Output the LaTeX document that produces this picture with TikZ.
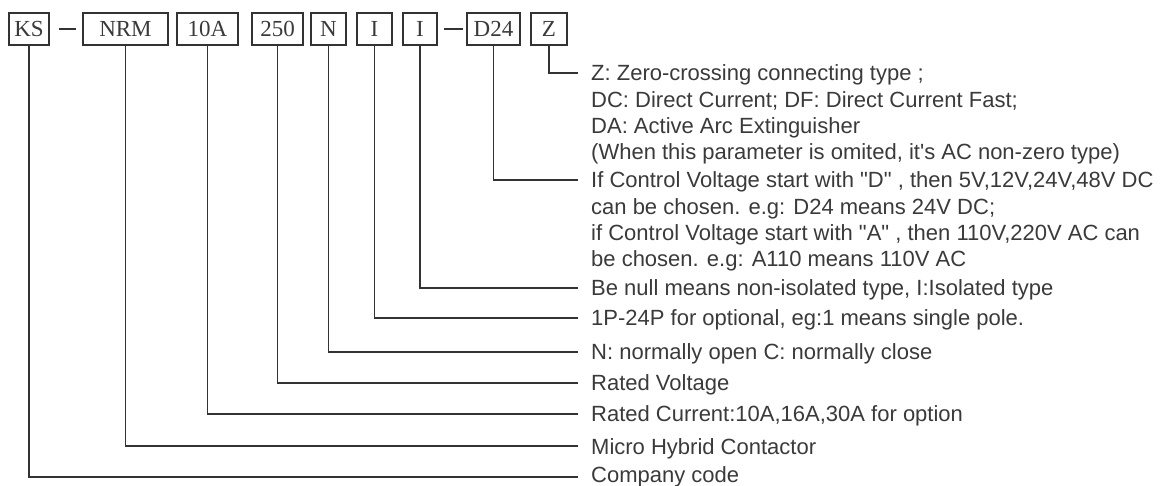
\documentclass[tikz,border=0pt]{standalone}
\usepackage{fontspec}
\setmainfont{Liberation Serif}
\newfontfamily\descfont{Liberation Sans}
\definecolor{lc}{HTML}{333333}
\definecolor{tc}{HTML}{3A3A3A}
\begin{document}
\begin{tikzpicture}[x=1pt,y=-1pt,
  codebox/.style={draw=lc, line width=1.6pt, minimum height=32pt, inner sep=0pt,
    font=\fontsize{23}{23}\selectfont\rmfamily, text=tc},
  desc/.style={anchor=base west, inner sep=0pt,
    font=\fontsize{22}{26.3}\selectfont\descfont, text=tc, align=left},
  leader/.style={draw=lc, line width=1.8pt},
  dashline/.style={draw=lc, line width=2pt}]
\useasboundingbox (0,0) rectangle (1171,486);
% code boxes
\node[codebox, minimum width=40pt] (ks)  at (29,29)    {KS};
\node[codebox, minimum width=85pt] (nrm) at (125.5,29) {NRM};
\node[codebox, minimum width=61pt] (ra)  at (207.5,29) {10A};
\node[codebox, minimum width=51pt] (rv)  at (277.5,29) {250};
\node[codebox, minimum width=35pt] (no)  at (328.5,29) {N};
\node[codebox, minimum width=35pt] (po)  at (374.5,29) {I};
\node[codebox, minimum width=34pt] (is)  at (420,29)   {I};
\node[codebox, minimum width=53pt] (cv)  at (493.5,29) {D24};
\node[codebox, minimum width=36pt] (zc)  at (549,29)   {Z};
% dashes
\draw[dashline] (ks.east) ++(9,0) coordinate (d1a) -- ++(17,0) coordinate (d1b);
\draw[dashline] (is.east) ++(6,0) coordinate (d2a) -- ++(19,0) coordinate (d2b);
% leader end points
\coordinate (ezc) at (578,73);
\coordinate (ecv) at (578,180);
\coordinate (eis) at (578,288);
\coordinate (epo) at (578,318);
\coordinate (eno) at (578,352);
\coordinate (erv) at (578,383);
\coordinate (era) at (578,414);
\coordinate (enrm) at (578,446);
\coordinate (eks) at (578,477);
% leaders
\draw[leader] (zc.south) |- (ezc);
\draw[leader] (cv.south) |- (ecv);
\draw[leader] (is.south) |- (eis);
\draw[leader] (po.south) |- (epo);
\draw[leader] (no.south) |- (eno);
\draw[leader] (rv.south) |- (erv);
\draw[leader] (ra.south) |- (era);
\draw[leader] (nrm.south) |- (enrm);
\draw[leader] (ks.south) |- (eks);
% descriptions (base anchor = baseline of the last line)
\node[desc] (tzc) at (591,159.9) {Z: Zero-crossing connecting type ;\\DC: Direct Current; DF: Direct Current Fast;\\DA: Active Arc Extinguisher\\(When this parameter is omited, it's AC non-zero type)};
\node[desc] (tcv) at (591,266.9) {If Control Voltage start with "D" , then 5V,12V,24V,48V DC\\can be chosen. e.g: D24 means 24V DC;\\if Control Voltage start with "A" , then 110V,220V AC can\\be chosen. e.g: A110 means 110V AC};
\node[desc] (tis) at (591,296) {Be null means non-isolated type, I:Isolated type};
\node[desc] (tpo) at (591,326) {1P-24P for optional, eg:1 means single pole.};
\node[desc] (tno) at (591,360) {N: normally open C: normally close};
\node[desc] (trv) at (591,391) {Rated Voltage};
\node[desc] (tra) at (591,422) {Rated Current:10A,16A,30A for option};
\node[desc] (tnrm) at (591,454) {Micro Hybrid Contactor};
\node[desc] (tks) at (591,482.5) {Company code};
\end{tikzpicture}
\end{document}
